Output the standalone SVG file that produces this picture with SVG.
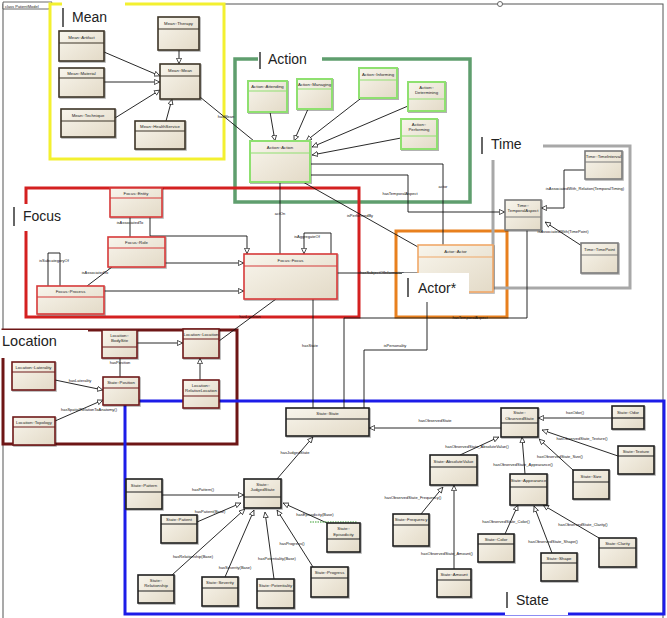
<svg xmlns="http://www.w3.org/2000/svg" width="667" height="618" viewBox="0 0 667 618">
<defs>
<linearGradient id="g" x1="0" y1="0" x2="1" y2="1">
<stop offset="0" stop-color="#f8f5ec"/><stop offset="1" stop-color="#e3dac7"/>
</linearGradient>
<filter id="sh" x="-10%" y="-10%" width="130%" height="130%">
<feDropShadow dx="1" dy="1" stdDeviation="0.6" flood-color="#000" flood-opacity="0.3"/>
</filter>
<marker id="tri" viewBox="0 0 10 10" refX="10" refY="5" markerWidth="6" markerHeight="6" markerUnits="userSpaceOnUse" orient="auto">
<path d="M0.5,0.8 L9.5,5 L0.5,9.2 Z" fill="#fff" stroke="#111" stroke-width="1.2"/>
</marker>
<style>
.pk{fill:none}
.n rect{fill:url(#g);stroke-width:1.6;filter:url(#sh)}
.n line{stroke-width:1.2}
.n text{font-family:"Liberation Sans",Arial,sans-serif;font-size:4.3px;fill:#222;text-anchor:middle}
.mean rect,.mean line{stroke:#3d3528}
.act rect,.act line{stroke:#8fe070}
.act rect{stroke-width:2}
.foc rect,.foc line{stroke:#d63a3a}
.actr rect,.actr line{stroke:#f0a868}
.tim rect,.tim line{stroke:#7a7a7a}
.loc rect,.loc line{stroke:#6e1a1a}
.st rect,.st line{stroke:#1e1e1e}
#edges path{fill:none;stroke:#111;stroke-width:0.9}
#edges path.t{marker-end:url(#tri)}
.el{font-family:"Liberation Sans",Arial,sans-serif;font-size:4px;fill:#111;text-anchor:middle}
.ttl{font-family:"Liberation Sans",Arial,sans-serif;font-size:14px;fill:#222}
.bar{stroke:#333;stroke-width:1.5}
</style>
</defs>
<rect width="667" height="618" fill="#fff"/>
<!-- outer frame -->
<g id="frame">
<rect x="3" y="4" width="660" height="616" fill="none" stroke="#555" stroke-width="1"/>
<path d="M3,2 H52 L49,9 H3 Z" fill="#fff" stroke="#444" stroke-width="0.8"/>
<text x="5" y="7.5" font-family="Liberation Sans, Arial, sans-serif" font-size="4" fill="#222">class PatientModel</text>
<circle cx="500" cy="4" r="2.5" fill="#fff" stroke="#444" stroke-width="0.8"/>
</g>
<!-- packages -->
<g id="packages">
<rect class="pk" x="50" y="4" width="174" height="155" stroke="#f3f030" stroke-width="3"/>
<rect class="pk" x="235" y="59" width="235" height="143" stroke="#5f9e6e" stroke-width="3.5"/>
<rect class="pk" x="26" y="188" width="333" height="129" stroke="#d42020" stroke-width="3"/>
<rect class="pk" x="396" y="231" width="111" height="86" stroke="#e8801e" stroke-width="3"/>
<rect class="pk" x="493" y="146" width="137" height="142" stroke="#a8a8a8" stroke-width="3"/>
<rect class="pk" x="3" y="330" width="234" height="114" stroke="#6e1616" stroke-width="3"/>
<rect class="pk" x="125" y="401" width="539" height="213" stroke="#1c1ce8" stroke-width="3"/>
</g>
<!-- connectors -->
<g id="edges">
<path class="t" d="M104,52 L160,76"/>
<path class="t" d="M104,82 L160,82"/>
<path class="t" d="M115,118 L160,90"/>
<path class="t" d="M166,121 L172,99"/>
<path class="t" d="M179,50 L179,64"/>
<path d="M200,97 L254,141"/>
<path class="t" d="M270,112 L275,141"/>
<path class="t" d="M308,109 L294,141"/>
<path class="t" d="M360,99 L306,141"/>
<path class="t" d="M408,106 L312,147"/>
<path class="t" d="M401,138 L312,155"/>
<path d="M310,164 H443 V245"/>
<path class="t" d="M310,175 H408 V212 H505"/>
<path d="M280,182 V254"/>
<path d="M303,182 L418,247"/>
<path d="M130,217 V237"/>
<path class="t" d="M150,217 V236 H247 V254"/>
<path class="t" d="M165,263 H244"/>
<path class="t" d="M104,291 H244"/>
<path d="M48,286 V253 H60 V286"/>
<path d="M87,286 L112,267"/>
<path class="t" d="M331,254 V233 H304 V254"/>
<path d="M337,273 H418"/>
<path d="M276,299 L219,341"/>
<path d="M313,299 V408"/>
<path d="M427,292 V350 H364 V408"/>
<path class="t" d="M585,170 H564 V208 H541"/>
<path class="t" d="M582,246 L545,222"/>
<path d="M527,230 V318 H344 V408"/>
<path class="t" d="M137,343 H183"/>
<path class="t" d="M200,380 V358"/>
<path d="M120,358 V377"/>
<path class="t" d="M55,380 L103,390"/>
<path class="t" d="M55,421 L103,400"/>
<path class="t" d="M277,479 L313,437"/>
<path class="t" d="M501,428 H369"/>
<path class="t" d="M162,495 H244"/>
<path class="t" d="M197,522 L241,503"/>
<path class="t" d="M172,575 L245,509"/>
<path class="t" d="M225,577 L254,510"/>
<path class="t" d="M274,579 L265,512"/>
<path class="t" d="M313,567 L277,510"/>
<path class="t" d="M327,523 L283,503"/>
<path d="M310,522 L357,522" style="stroke:#3aa030;stroke-dasharray:1.5 1;stroke-width:1.2"/>
<path class="t" d="M460,455 L499,437"/>
<path class="t" d="M525,474 L522,437"/>
<path class="t" d="M573,470 L539,439"/>
<path class="t" d="M618,456 L542,430"/>
<path class="t" d="M612,418 H538"/>
<path class="t" d="M421,514 L443,487"/>
<path class="t" d="M454,569 V485"/>
<path class="t" d="M505,534 L518,505"/>
<path class="t" d="M552,553 L534,506"/>
<path class="t" d="M599,538 L543,505"/>
</g>
<g id="edge-labels">
<text class="el" x="226" y="118">hasMean</text>
<text class="el" x="443" y="188">actor</text>
<text class="el" x="400" y="195">hasTemporalAspect</text>
<text class="el" x="280" y="215">actOn</text>
<text class="el" x="360" y="217">isPerformedBy</text>
<text class="el" x="130" y="224">isAssociatedTo</text>
<text class="el" x="54" y="262">isSubcategoryOf</text>
<text class="el" x="95" y="274">isAssociatedTo</text>
<text class="el" x="307" y="238">isAggregateOf</text>
<text class="el" x="382" y="274">hasSubjectOfInformation</text>
<text class="el" x="250" y="318">hasLocation</text>
<text class="el" x="310" y="347">hasState</text>
<text class="el" x="395" y="347">isPersonality</text>
<text class="el" x="585" y="190">isAssociatedWith_Relation(TemporalTiming)</text>
<text class="el" x="563" y="233">isAssociatedWith(TimePoint)</text>
<text class="el" x="470" y="319">hasTemporalAspect</text>
<text class="el" x="120" y="364">hasPosition</text>
<text class="el" x="80" y="382">hasLaterality</text>
<text class="el" x="89" y="411">hasSpatialRelationToAnatomy()</text>
<text class="el" x="295" y="454">hasJudgedState</text>
<text class="el" x="435" y="422">hasObservedState</text>
<text class="el" x="203" y="491">hasPattern()</text>
<text class="el" x="210" y="513">hasPatient(Base)</text>
<text class="el" x="193" y="558">hasRelationship(Base)</text>
<text class="el" x="235" y="569">hasSeverity(Base)</text>
<text class="el" x="277" y="560">hasPotentiality(Base)</text>
<text class="el" x="292" y="545">hasProgress()</text>
<text class="el" x="315" y="516">hasEpisodicity(Base)</text>
<text class="el" x="477" y="448">hasObservedState_AbsoluteValue()</text>
<text class="el" x="523" y="466">hasObservedState_Appearance()</text>
<text class="el" x="560" y="458">hasObservedState_Size()</text>
<text class="el" x="582" y="440">hasObservedState_Texture()</text>
<text class="el" x="575" y="414">hasOdor()</text>
<text class="el" x="413" y="499">hasObservedState_Frequency()</text>
<text class="el" x="447" y="555">hasObservedState_Amount()</text>
<text class="el" x="506" y="523">hasObservedState_Color()</text>
<text class="el" x="553" y="543">hasObservedState_Shape()</text>
<text class="el" x="583" y="526">hasObservedState_Clarity()</text>
</g>
<!-- Mean nodes -->
<g id="mArtifact" class="n mean"><rect x="59" y="31" width="45" height="30"/><line x1="59" y1="43" x2="104" y2="43"/><text x="81.5" y="38.5">Mean::Artifact</text></g>
<g id="mTherapy" class="n mean"><rect x="158" y="17" width="41" height="33"/><line x1="158" y1="29" x2="199" y2="29"/><text x="178.5" y="24.5">Mean::Therapy</text></g>
<g id="mMaterial" class="n mean"><rect x="59" y="68" width="45" height="29"/><line x1="59" y1="78" x2="104" y2="78"/><text x="81.5" y="74.5">Mean::Material</text></g>
<g id="mMean" class="n mean"><rect x="160" y="64" width="40" height="35"/><line x1="160" y1="76" x2="200" y2="76"/><text x="180" y="71.5">Mean::Mean</text></g>
<g id="mTechnique" class="n mean"><rect x="61" y="109" width="54" height="28"/><line x1="61" y1="121" x2="115" y2="121"/><text x="88" y="116.5">Mean::Technique</text></g>
<g id="mHealth" class="n mean"><rect x="135" y="121" width="50" height="28"/><line x1="135" y1="131" x2="185" y2="131"/><text x="160" y="127.5">Mean::HealthService</text></g>
<!-- Action nodes -->
<g id="aAttending" class="n act"><rect x="248" y="81" width="39" height="31"/><line x1="248" y1="91" x2="287" y2="91"/><text x="267.5" y="87.5">Action::Attending</text></g>
<g id="aManaging" class="n act"><rect x="297" y="79" width="35" height="30"/><line x1="297" y1="89" x2="332" y2="89"/><text x="314.5" y="85.5">Action::Managing</text></g>
<g id="aInforming" class="n act"><rect x="359" y="68" width="38" height="30"/><line x1="359" y1="80" x2="397" y2="80"/><text x="378" y="75.5">Action::Informing</text></g>
<g id="aDetermining" class="n act"><rect x="408" y="82" width="37" height="29"/><line x1="408" y1="99" x2="445" y2="99"/><text x="426.5" y="88.5">Action::</text><text x="426.5" y="94">Determining</text></g>
<g id="aPerforming" class="n act"><rect x="401" y="119" width="36" height="30"/><line x1="401" y1="136" x2="437" y2="136"/><text x="419" y="125.5">Action::</text><text x="419" y="131">Performing</text></g>
<g id="aAction" class="n act"><rect x="250" y="141" width="60" height="41"/><line x1="250" y1="153" x2="310" y2="153"/><text x="280" y="148.5">Action::Action</text></g>
<!-- Focus nodes -->
<g id="fEntity" class="n foc"><rect x="110" y="188" width="52" height="29"/><line x1="110" y1="198" x2="162" y2="198"/><text x="136" y="194.5">Focus::Entity</text></g>
<g id="fRole" class="n foc"><rect x="108" y="237" width="57" height="30"/><line x1="108" y1="248" x2="165" y2="248"/><text x="136.5" y="244">Focus::Role</text></g>
<g id="fProcess" class="n foc"><rect x="37" y="286" width="67" height="28"/><line x1="37" y1="297" x2="104" y2="297"/><text x="70.5" y="293">Focus::Process</text></g>
<g id="fFocus" class="n foc"><rect x="244" y="254" width="93" height="45"/><line x1="244" y1="266" x2="337" y2="266"/><text x="290.5" y="261.5">Focus::Focus</text></g>
<!-- Actor node -->
<g id="actActor" class="n actr"><rect x="418" y="245" width="75" height="47"/><line x1="418" y1="257" x2="493" y2="257"/><text x="455.5" y="252.5">Actor::Actor</text></g>
<!-- Time nodes -->
<g id="tInterval" class="n tim"><rect x="585" y="151" width="37" height="28"/><line x1="585" y1="162" x2="622" y2="162"/><text x="603.5" y="158">Time::TimeInterval</text></g>
<g id="tTemporal" class="n tim"><rect x="505" y="200" width="36" height="30"/><line x1="505" y1="217" x2="541" y2="217"/><text x="523" y="206.5">Time::</text><text x="523" y="212">TemporalAspect</text></g>
<g id="tPoint" class="n tim"><rect x="581" y="243" width="37" height="30"/><line x1="581" y1="255" x2="618" y2="255"/><text x="599.5" y="250.5">Time::TimePoint</text></g>
<!-- Location nodes -->
<g id="lBodySite" class="n loc"><rect x="102" y="330" width="35" height="28"/><line x1="102" y1="347" x2="137" y2="347"/><text x="119.5" y="336.5">Location::</text><text x="119.5" y="342">BodySite</text></g>
<g id="lLocation" class="n loc"><rect x="183" y="329" width="36" height="29"/><line x1="183" y1="339" x2="219" y2="339"/><text x="201" y="335.5">Location::Location</text></g>
<g id="lLaterality" class="n loc"><rect x="12" y="362" width="43" height="28"/><line x1="12" y1="372" x2="55" y2="372"/><text x="33.5" y="368.5">Location::Laterality</text></g>
<g id="lPosition" class="n loc"><rect x="103" y="377" width="36" height="28"/><line x1="103" y1="388" x2="139" y2="388"/><text x="121" y="384">State::Position</text></g>
<g id="lRelative" class="n loc"><rect x="183" y="380" width="36" height="28"/><line x1="183" y1="396" x2="219" y2="396"/><text x="201" y="386.5">Location::</text><text x="201" y="392">RelativeLocation</text></g>
<g id="lTopology" class="n loc"><rect x="13" y="417" width="42" height="28"/><line x1="13" y1="427" x2="55" y2="427"/><text x="34" y="423.5">Location::Topology</text></g>
<!-- State nodes -->
<g id="sState" class="n st"><rect x="286" y="408" width="83" height="28"/><line x1="286" y1="419" x2="369" y2="419"/><text x="327.5" y="415">State::State</text></g>
<g id="sObserved" class="n st"><rect x="501" y="408" width="37" height="29"/><line x1="501" y1="423" x2="538" y2="423"/><text x="519.5" y="414">State::</text><text x="519.5" y="419.5">ObservedState</text></g>
<g id="sOdor" class="n st"><rect x="612" y="406" width="32" height="23"/><line x1="612" y1="418" x2="644" y2="418"/><text x="628" y="413.5">State::Odor</text></g>
<g id="sTexture" class="n st"><rect x="618" y="446" width="36" height="28"/><line x1="618" y1="456" x2="654" y2="456"/><text x="636" y="452.5">State::Texture</text></g>
<g id="sAbsolute" class="n st"><rect x="430" y="455" width="47" height="30"/><line x1="430" y1="467" x2="477" y2="467"/><text x="453.5" y="462.5">State::AbsoluteValue</text></g>
<g id="sAppearance" class="n st"><rect x="510" y="474" width="37" height="31"/><line x1="510" y1="487" x2="547" y2="487"/><text x="528.5" y="482">State::Appearance</text></g>
<g id="sSize" class="n st"><rect x="573" y="470" width="36" height="29"/><line x1="573" y1="482" x2="609" y2="482"/><text x="591" y="477.5">State::Size</text></g>
<g id="sFrequency" class="n st"><rect x="393" y="514" width="36" height="32"/><line x1="393" y1="525" x2="429" y2="525"/><text x="411" y="521">State::Frequency</text></g>
<g id="sAmount" class="n st"><rect x="437" y="569" width="34" height="28"/><line x1="437" y1="580" x2="471" y2="580"/><text x="454" y="576">State::Amount</text></g>
<g id="sColor" class="n st"><rect x="478" y="534" width="36" height="28"/><line x1="478" y1="544" x2="514" y2="544"/><text x="496" y="540.5">State::Color</text></g>
<g id="sShape" class="n st"><rect x="541" y="553" width="36" height="28"/><line x1="541" y1="563" x2="577" y2="563"/><text x="559" y="559.5">State::Shape</text></g>
<g id="sClarity" class="n st"><rect x="599" y="538" width="37" height="29"/><line x1="599" y1="548" x2="636" y2="548"/><text x="617.5" y="544.5">State::Clarity</text></g>
<g id="sPattern" class="n st"><rect x="126" y="479" width="36" height="30"/><line x1="126" y1="492" x2="162" y2="492"/><text x="144" y="487">State::Pattern</text></g>
<g id="sJudged" class="n st"><rect x="244" y="479" width="37" height="29"/><line x1="244" y1="497" x2="281" y2="497"/><text x="262.5" y="485.5">State::</text><text x="262.5" y="491">JudgedState</text></g>
<g id="sPatient" class="n st"><rect x="161" y="515" width="36" height="28"/><line x1="161" y1="524" x2="197" y2="524"/><text x="179" y="521">State::Patient</text></g>
<g id="sEpisodicity" class="n st"><rect x="327" y="523" width="33" height="29"/><line x1="327" y1="539" x2="360" y2="539"/><text x="343.5" y="530">State::</text><text x="343.5" y="535.5">Episodicity</text></g>
<g id="sRelation" class="n st"><rect x="138" y="575" width="36" height="28"/><line x1="138" y1="591" x2="174" y2="591"/><text x="156" y="581.5">State::</text><text x="156" y="587">Relationship</text></g>
<g id="sSeverity" class="n st"><rect x="202" y="577" width="36" height="29"/><line x1="202" y1="588" x2="238" y2="588"/><text x="220" y="584">State::Severity</text></g>
<g id="sPotentiality" class="n st"><rect x="257" y="579" width="37" height="29"/><line x1="257" y1="591" x2="294" y2="591"/><text x="275.5" y="586.5">State::Potentiality</text></g>
<g id="sProgress" class="n st"><rect x="311" y="567" width="37" height="30"/><line x1="311" y1="578" x2="348" y2="578"/><text x="329.5" y="574">State::Progress</text></g>
<!-- package titles -->
<g id="titles">
<rect x="62" y="0" width="63" height="30" fill="#fff"/><line class="bar" x1="63" y1="8" x2="63" y2="27"/><text class="ttl" x="72" y="22">Mean</text>
<rect x="258" y="50" width="64" height="20" fill="#fff"/><line class="bar" x1="260" y1="52" x2="260" y2="69"/><text class="ttl" x="268" y="64">Action</text>
<rect x="10" y="204" width="52" height="27" fill="#fff"/><line class="bar" x1="14" y1="207" x2="14" y2="226"/><text class="ttl" x="23" y="221">Focus</text>
<rect x="478" y="130" width="65" height="30" fill="#fff"/><line class="bar" x1="482" y1="137" x2="482" y2="154"/><text class="ttl" x="491" y="149">Time</text>
<rect x="402" y="273" width="67" height="29" fill="#fff"/><line class="bar" x1="408" y1="278" x2="408" y2="297"/><text class="ttl" x="418" y="293">Actor*</text>
<rect x="0" y="330" width="88" height="28" fill="#fff"/><text class="ttl" x="2" y="346" style="font-size:14.5px">Location</text>
<rect x="505" y="588" width="63" height="27" fill="#fff"/><line class="bar" x1="507" y1="592" x2="507" y2="608"/><text class="ttl" x="516" y="605">State</text>
</g>
</svg>
